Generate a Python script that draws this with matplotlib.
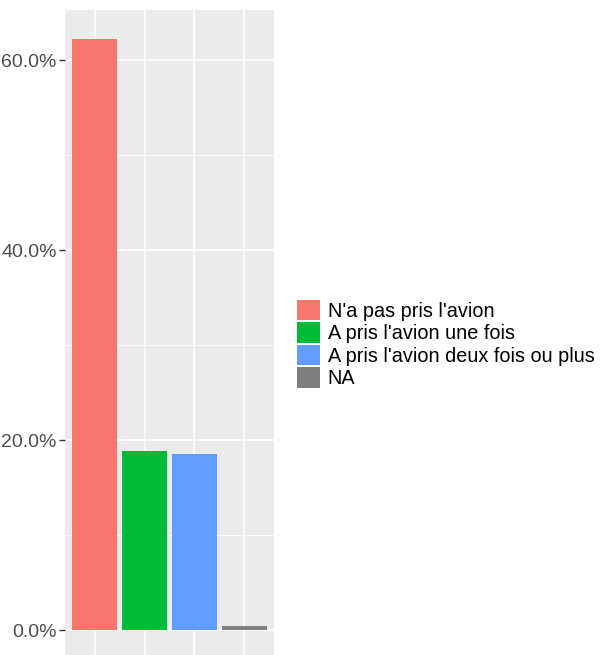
import numpy as np
import matplotlib.pyplot as plt
from matplotlib.patches import Patch
from matplotlib.ticker import FuncFormatter, MultipleLocator

plt.rcParams['font.family'] = ['Liberation Sans', 'DejaVu Sans']

# Data
categories = ["N'a pas pris l'avion", "A pris l'avion une fois",
              "A pris l'avion deux fois ou plus", "NA"]
shares = [62.2, 18.9, 18.55, 0.45]
colors = ['#F8766D', '#00BA38', '#619CFF', '#7F7F7F']

fig = plt.figure(figsize=(6.03, 6.55), dpi=100)
W, H = 603, 655
# panel in pixels: x 65..274, y top 10, extends below bottom edge
ymin, ymax = -3.11, 65.3
px_per = 9.5
bottom_px = 630 + (0 - ymin) * px_per
ax = fig.add_axes([65 / W, 1 - bottom_px / H, (274 - 65) / W, (bottom_px - 10) / H])

x = np.arange(1, len(categories) + 1)
ax.bar(x, shares, width=0.9, color=colors, zorder=3)

ax.set_xlim(0.4, 4.6)
ax.set_ylim(ymin, ymax)
ax.set_facecolor('#EBEBEB')
for s in ax.spines.values():
    s.set_visible(False)

ax.set_xticks(x)
ax.set_xticklabels([])
ax.tick_params(axis='x', length=0)
ax.yaxis.set_major_locator(MultipleLocator(20))
ax.yaxis.set_minor_locator(MultipleLocator(10))
ax.yaxis.set_major_formatter(FuncFormatter(lambda v, p: f'{v:.1f}%'))
ax.tick_params(axis='y', which='major', length=4, width=1, color='#333333',
               labelsize=14, labelcolor='#4D4D4D', pad=2)
ax.tick_params(axis='y', which='minor', length=0)
ax.grid(True, which='major', color='white', linewidth=1.1, zorder=0)
ax.grid(True, which='minor', axis='y', color='white', linewidth=0.55, zorder=0)
ax.set_axisbelow(True)

handles = [Patch(facecolor=c, edgecolor='none') for c in colors]
fig.legend(handles, categories, loc='upper left',
           bbox_to_anchor=(289 / W, 1 - 292 / H), frameon=False,
           fontsize=14.3, handlelength=1.15, handleheight=1.2,
           handletextpad=0.4, labelspacing=0.08, borderaxespad=0)

fig.savefig('out.png', dpi=100)
